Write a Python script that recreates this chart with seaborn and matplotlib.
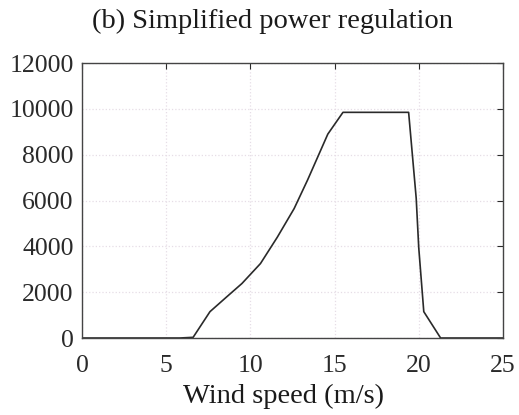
import matplotlib
matplotlib.use("Agg")
import matplotlib.pyplot as plt
import seaborn as sns
import pandas as pd

wind_speed = [0, 5.8, 6.6, 7.6, 8.6, 9.5, 10.6, 11.6, 12.6, 13.4, 14.6, 15.5, 19.4, 19.85, 20.0, 20.3, 21.3, 25]
power = [0, 0, 30, 1150, 1800, 2380, 3250, 4400, 5650, 6900, 8900, 9850, 9850, 6100, 3950, 1150, 0, 0]
xticks = [0, 5, 10, 15, 20, 25]
yticks = [0, 2000, 4000, 6000, 8000, 10000, 12000]

df = pd.DataFrame({"Wind speed": wind_speed, "Power": power})

sns.set_theme(style="white")
plt.rcParams["font.family"] = ["Liberation Serif", "DejaVu Serif"]

fig = plt.figure(figsize=(5.19, 4.15), dpi=100)
ax = fig.add_axes([0.158, 0.1855, 0.811, 0.6625])
sns.lineplot(data=df, x="Wind speed", y="Power", ax=ax, color="#2a2a2a", linewidth=1.2, sort=False)
ax.set_xlim(0, 25)
ax.set_ylim(0, 12000)
ax.set_xticks(xticks)
ax.set_yticks(yticks)
ax.set_xticklabels([str(t) for t in xticks])
ax.set_yticklabels([str(t) for t in yticks])
ax.grid(True, color="#e6dde6", linestyle=":", linewidth=0.9)
ax.tick_params(direction="in", length=4, width=0.8, top=True, right=True,
               labelsize=18.5, colors="#2a2a2a")
ax.tick_params(axis="x", pad=12)
ax.tick_params(axis="y", pad=6)
for s in ax.spines.values():
    s.set_color("#444444")
    s.set_linewidth(1.0)
ax.set_xlabel("Wind speed (m/s)", fontsize=20.5, color="#1a1a1a", labelpad=5, x=0.478)
ax.set_ylabel("")
ax.set_title("(b) Simplified power regulation", fontsize=20.5, color="#1a1a1a", pad=25, x=0.452)
fig.savefig("out.png", dpi=100)
